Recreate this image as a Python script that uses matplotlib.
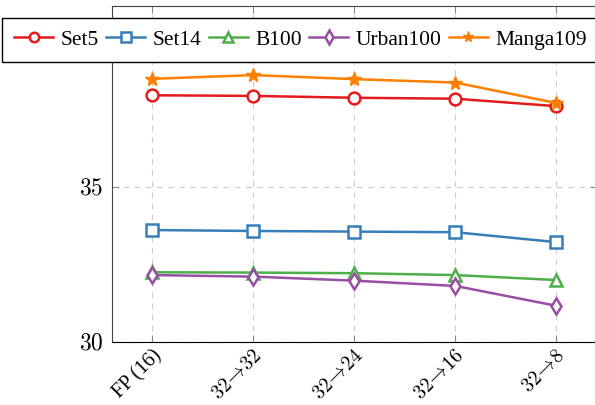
import matplotlib
matplotlib.use("Agg")
import matplotlib.pyplot as plt

plt.rcParams['font.family'] = ['Liberation Serif', 'DejaVu Serif']
plt.rcParams['mathtext.fontset'] = 'cm'

labels = ["FP (16)", r"$32\!\rightarrow\!32$", r"$32\!\rightarrow\!24$",
          r"$32\!\rightarrow\!16$", r"$32\!\rightarrow\!8$"]
set5 = [37.94, 37.92, 37.86, 37.83, 37.59]
set14 = [33.60, 33.57, 33.55, 33.53, 33.21]
b100 = [32.24, 32.23, 32.21, 32.15, 31.99]
urban100 = [32.15, 32.10, 31.97, 31.80, 31.16]
manga109 = [38.47, 38.59, 38.46, 38.35, 37.69]

series = [
    ("Set5", set5, "#e41a1c", "o"),
    ("Set14", set14, "#377eb8", "s"),
    ("B100", b100, "#4daf4a", "^"),
    ("Urban100", urban100, "#984ea3", "d"),
    ("Manga109", manga109, "#ff7f00", "*"),
]

fig = plt.figure(figsize=(5.95, 4.05), dpi=100)
ax = fig.add_axes([0.188, 0.156, 0.815, 0.828])

x = list(range(len(labels)))
handles = []
for name, vals, col, mk in series:
    if mk == "*":
        h, = ax.plot(x, vals, color=col, marker=mk, markersize=10, lw=1.8,
                     markeredgewidth=1.0, label=name)
    else:
        h, = ax.plot(x, vals, color=col, marker=mk, markersize=8.5, lw=1.8,
                     markerfacecolor="white", markeredgewidth=1.8, label=name)
    handles.append(h)

ax.set_xlim(-0.4, 4.4)
ax.set_ylim(30, 40.8)
ax.set_xticks(x)
ax.set_xticklabels(labels, rotation=45, ha="right", rotation_mode="anchor", fontsize=14.5)
ax.set_yticks([30, 35])
ax.set_yticklabels(["$30$", "$35$"], fontsize=17)
ax.grid(True, color="#cccccc", linestyle=(0, (5, 5)), lw=0.8)
ax.tick_params(direction="in", top=True, right=True, color="#888888", length=5, pad=6)
ax.tick_params(axis="x", pad=3)
for s in ax.spines.values():
    s.set_color("#444444")
ax.spines["bottom"].set_color("black")

fig.legend(handles=handles, loc="center", bbox_to_anchor=(0.505, 0.902), ncol=5,
           fontsize=15.5, frameon=True, fancybox=False, edgecolor="black",
           handlelength=1.8, handletextpad=0.35, columnspacing=0.35,
           borderpad=0.55, framealpha=1, markerscale=0.8)

fig.savefig("out.png", dpi=100)
